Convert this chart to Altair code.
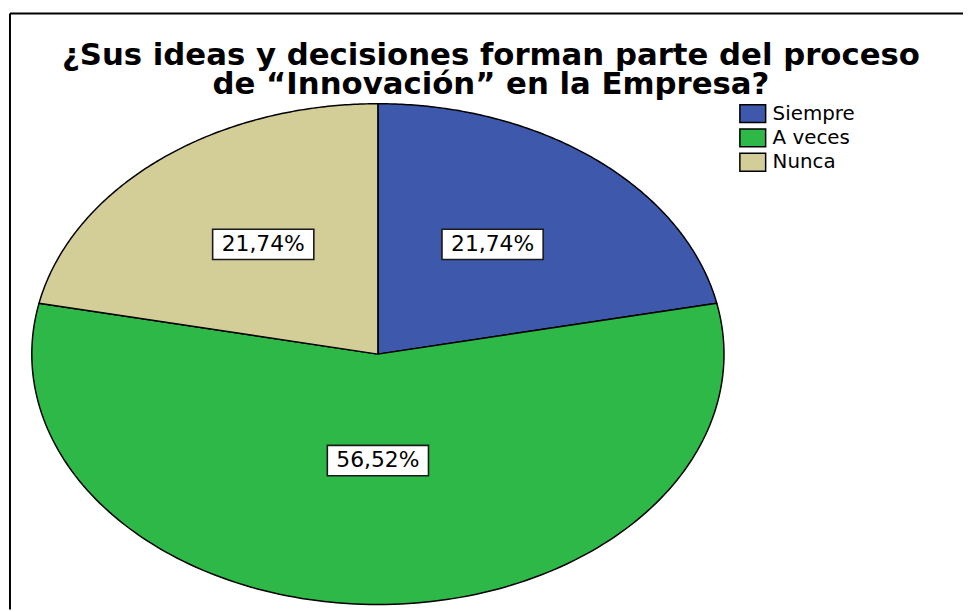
import altair as alt
import pandas as pd

# ---- data ----
categories = ["Siempre", "A veces", "Nunca"]
values = [21.74, 56.52, 21.74]          # percentages
colors = ["#3E58AC", "#2EB848", "#D3CE97"]
title_lines = ["¿Sus ideas y decisiones forman parte del proceso",
               "de “Innovación” en la Empresa?"]

df = pd.DataFrame({"categoria": categories, "valor": values})

N = 160  # points per slice outline
FONT = "DejaVu Sans"

W, H = 963, 604
xscale = alt.Scale(domain=[-1, 1], range=[24, 722], nice=False, zero=False)
yscale = alt.Scale(domain=[-1, 1], range=[599, 94], nice=False, zero=False)

base = (
    alt.Chart(df)
    .transform_joinaggregate(total="sum(valor)")
    .transform_window(cum="sum(valor)", frame=[None, 0])
    .transform_calculate(
        a0="2*PI*(datum.cum - datum.valor)/datum.total",
        a1="2*PI*datum.cum/datum.total",
    )
)

pie = (
    base.transform_calculate(pts=f"sequence(-1, {N + 2})")
    .transform_flatten(["pts"], as_=["i"])
    .transform_calculate(
        t=f"datum.a0 + (datum.a1 - datum.a0) * clamp(datum.i, 0, {N}) / {N}",
        edge=f"datum.i >= 0 && datum.i <= {N}",
    )
    .transform_calculate(
        px="datum.edge ? sin(datum.t) : 0",
        py="datum.edge ? cos(datum.t) : 0",
    )
    .mark_line(stroke="black", strokeWidth=1.5, strokeJoin="round")
    .encode(
        x=alt.X("px:Q", scale=xscale, axis=None),
        y=alt.Y("py:Q", scale=yscale, axis=None),
        fill=alt.Fill(
            "categoria:N",
            scale=alt.Scale(domain=categories, range=colors),
            legend=alt.Legend(
                title=None,
                orient="none",
                legendX=740,
                legendY=93,
                symbolType="M-1.3,-0.9H1.3V0.9H-1.3Z",
                symbolSize=400,
                symbolStrokeColor="black",
                symbolStrokeWidth=1.5,
                symbolOpacity=1,
                labelFont=FONT,
                labelFontSize=20,
                labelColor="black",
                labelOffset=9,
                rowPadding=0.5,
                padding=0,
            ),
        ),
        order=alt.Order("i:Q"),
    )
)

lab = base.transform_calculate(
    m="(datum.a0 + datum.a1) / 2",
    rx="datum.valor > 50 ? 0.425 : 0.525",
    ry="datum.valor > 50 ? 0.425 : 0.565",
).transform_calculate(
    lx="datum.rx * sin(datum.m)",
    ly="datum.ry * cos(datum.m)",
    txt="replace(format(datum.valor, '.2f'), '.', ',') + '%'",
)

boxes = lab.mark_point(
    shape="M-1,-0.3H1V0.3H-1Z",
    size=10404,
    filled=True,
    fill="white",
    stroke="#1a1a1a",
    strokeWidth=1.6,
    opacity=1,
).encode(
    x=alt.X("lx:Q", scale=xscale, axis=None),
    y=alt.Y("ly:Q", scale=yscale, axis=None),
)

texts = lab.mark_text(font=FONT, fontSize=22, color="black").encode(
    x=alt.X("lx:Q", scale=xscale, axis=None),
    y=alt.Y("ly:Q", scale=yscale, axis=None),
    text="txt:N",
)

one = pd.DataFrame({"k": [0]})
title = alt.Chart(one).mark_text(
    font=FONT, fontWeight="bold", fontSize=31, align="center",
    baseline="alphabetic", color="black", lineHeight=29,
).encode(x=alt.value(487), y=alt.value(55), text=alt.value(title_lines))

frame_top = alt.Chart(one).mark_rule(color="black", strokeWidth=2).encode(
    x=alt.value(2), x2=alt.value(W), y=alt.value(3)
)
frame_left = alt.Chart(one).mark_rule(color="black", strokeWidth=2).encode(
    x=alt.value(2), y=alt.value(3), y2=alt.value(H)
)

chart = (
    alt.layer(frame_top, frame_left, pie, boxes, texts, title)
    .resolve_scale(x="shared", y="shared")
    .properties(width=W, height=H, autosize=alt.AutoSizeParams(type="none"), padding=0, background="white")
    .configure_view(stroke=None)
)

chart.save("out.html", embed_options={"renderer": "svg", "actions": False})
